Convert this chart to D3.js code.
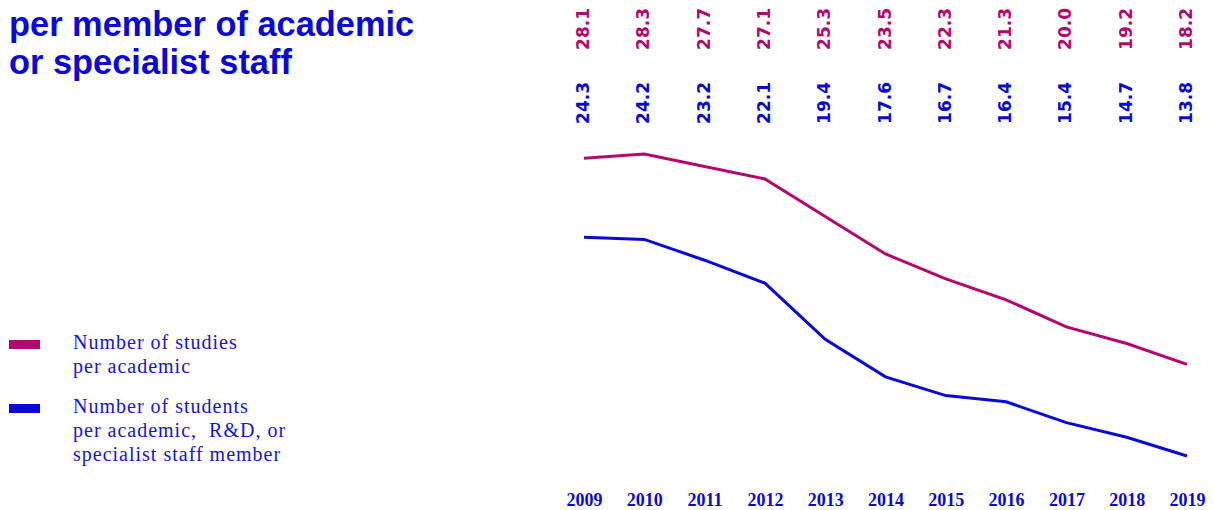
<!DOCTYPE html>
<meta charset="utf-8">
<title>Students per member of academic staff</title>
<style>
  body { margin: 0; background: #fff; }
  svg { display: block; }
  .title { font-family: "Liberation Sans", Arial, sans-serif; font-weight: bold; font-size: 34.4px; fill: #0a0ad6; }
  .val { font-family: "DejaVu Sans", sans-serif; font-weight: bold; font-size: 17px; }
  .legend text { font-family: "Liberation Serif", serif; font-size: 20px; letter-spacing: 1px; white-space: pre; fill: #1414dc; }
  .year { font-family: "Liberation Serif", serif; font-weight: bold; font-size: 18px; fill: #0a0ad6; }
</style>
<body>
<svg width="1213" height="510"></svg>
<script src="https://d3js.org/d3.v7.min.js"></script>
<script>

// data
var years = [2009, 2010, 2011, 2012, 2013, 2014, 2015, 2016, 2017, 2018, 2019];
var studiesPerAcademic = [28.1, 28.3, 27.7, 27.1, 25.3, 23.5, 22.3, 21.3, 20.0, 19.2, 18.2];
var studentsPerStaff = [24.3, 24.2, 23.2, 22.1, 19.4, 17.6, 16.7, 16.4, 15.4, 14.7, 13.8];
var legendLabels = [
  ["Number of studies", "per academic"],
  ["Number of students", "per academic,  R&D, or", "specialist staff member"]
];
var titleLines = ["per member of academic", "or specialist staff"];

var magenta = "#b3086f",
    blue = "#0a0ad6";

var svg = d3.select("svg");

var x = d3.scaleLinear()
  .domain([2009, 2019])
  .range([584, 1187]);

var y = d3.scaleLinear()
  .domain([13.8, 28.3])
  .range([456, 154]);

// title
svg.append("g").selectAll("text")
  .data(titleLines)
  .enter().append("text")
  .attr("class", "title")
  .attr("x", 9)
  .attr("y", function(d, i) { return 36 + i * 38; })
  .text(function(d) { return d; });

var series = [
  { values: studiesPerAcademic, color: magenta, labelTop: 8 },
  { values: studentsPerStaff, color: blue, labelTop: 82 }
];

var line = d3.line()
  .x(function(d, i) { return x(years[i]); })
  .y(function(d) { return y(d); });

series.forEach(function(s) {
  svg.append("path")
    .datum(s.values)
    .attr("fill", "none")
    .attr("stroke", s.color)
    .attr("stroke-width", 3)
    .attr("d", line);

  svg.append("g").selectAll("text")
    .data(s.values)
    .enter().append("text")
    .attr("class", "val")
    .attr("fill", s.color)
    .attr("text-anchor", "end")
    .attr("transform", function(d, i) {
      return "translate(" + (x(years[i]) + 5) + "," + s.labelTop + ") rotate(-90)";
    })
    .text(function(d) { return d.toFixed(1); });
});

// year axis
var axis = d3.axisBottom(x)
  .tickValues(years)
  .tickFormat(d3.format("d"))
  .tickSize(0);

var ax = svg.append("g")
  .attr("transform", "translate(0,490)")
  .call(axis);
ax.select(".domain").remove();
ax.selectAll("text")
  .attr("class", "year")
  .attr("fill", null)
  .attr("font-size", null)
  .attr("font-family", null)
  .attr("dy", "0.71em");

// legend
var legend = svg.append("g").attr("class", "legend");
var legendColors = [magenta, blue];
var legendTops = [340, 404];

legendLabels.forEach(function(lines, k) {
  legend.append("rect")
    .attr("x", 9)
    .attr("y", legendTops[k])
    .attr("width", 31)
    .attr("height", 9)
    .attr("fill", legendColors[k]);

  legend.selectAll(null)
    .data(lines)
    .enter().append("text")
    .attr("x", 73)
    .attr("y", function(d, i) { return legendTops[k] + 9 + i * 24; })
    .text(function(d) { return d; });
});

</script>
</body>
